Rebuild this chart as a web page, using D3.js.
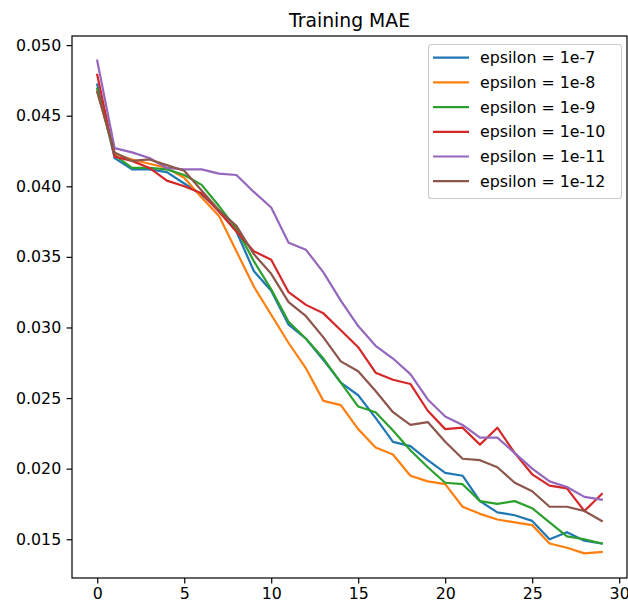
<!DOCTYPE html>
<html>
<head>
<meta charset="utf-8">
<script src="https://cdn.jsdelivr.net/npm/d3@7"></script>
<style>
  html, body { margin: 0; padding: 0; background: #fff; }
  svg { display: block; font-family: "DejaVu Sans", sans-serif; }
</style>
</head>
<body>
<svg id="chart" width="628" height="607"></svg>
<script>
// Training MAE per epoch for different Adam epsilon values
const epochs = d3.range(30);
const seriesNames = ["epsilon = 1e-7", "epsilon = 1e-8", "epsilon = 1e-9",
                     "epsilon = 1e-10", "epsilon = 1e-11", "epsilon = 1e-12"];
const eps1e7 = [0.0472, 0.0420, 0.0412, 0.0412, 0.0410, 0.0402, 0.0394, 0.0383, 0.0368, 0.0340,
                0.0326, 0.0302, 0.0292, 0.0277, 0.0261, 0.0252, 0.0236, 0.0219, 0.0216, 0.0206,
                0.0197, 0.0195, 0.0177, 0.0169, 0.0167, 0.0163, 0.0150, 0.0155, 0.0149, 0.0147];
const eps1e8 = [0.0467, 0.0423, 0.0419, 0.0416, 0.0413, 0.0406, 0.0392, 0.0379, 0.0354, 0.0329,
                0.0309, 0.0289, 0.0271, 0.0248, 0.0245, 0.0228, 0.0215, 0.0210, 0.0195, 0.0191,
                0.0189, 0.0173, 0.0168, 0.0164, 0.0162, 0.0160, 0.0147, 0.0144, 0.0140, 0.0141];
const eps1e9 = [0.0469, 0.0422, 0.0413, 0.0413, 0.0412, 0.0408, 0.0401, 0.0386, 0.0370, 0.0347,
                0.0327, 0.0304, 0.0292, 0.0278, 0.0261, 0.0244, 0.0240, 0.0227, 0.0213, 0.0201,
                0.0190, 0.0189, 0.0177, 0.0175, 0.0177, 0.0172, 0.0162, 0.0152, 0.0150, 0.0147];
const eps1e10 = [0.0479, 0.0421, 0.0418, 0.0413, 0.0404, 0.0400, 0.0395, 0.0382, 0.0368, 0.0354,
                 0.0348, 0.0325, 0.0316, 0.0310, 0.0298, 0.0286, 0.0268, 0.0263, 0.0260, 0.0241,
                 0.0228, 0.0229, 0.0217, 0.0229, 0.0211, 0.0196, 0.0188, 0.0186, 0.0170, 0.0182];
const eps1e11 = [0.0489, 0.0427, 0.0424, 0.0420, 0.0413, 0.0412, 0.0412, 0.0409, 0.0408, 0.0396,
                 0.0385, 0.0360, 0.0355, 0.0339, 0.0319, 0.0301, 0.0287, 0.0278, 0.0267, 0.0249,
                 0.0237, 0.0231, 0.0222, 0.0222, 0.0211, 0.0200, 0.0191, 0.0187, 0.0180, 0.0178];
const eps1e12 = [0.0467, 0.0424, 0.0418, 0.0419, 0.0415, 0.0411, 0.0397, 0.0383, 0.0372, 0.0352,
                 0.0338, 0.0318, 0.0308, 0.0293, 0.0276, 0.0269, 0.0255, 0.0240, 0.0231, 0.0233,
                 0.0219, 0.0207, 0.0206, 0.0201, 0.0190, 0.0184, 0.0173, 0.0173, 0.0170, 0.0163];
const seriesValues = [eps1e7, eps1e8, eps1e9, eps1e10, eps1e11, eps1e12];
const xTicks = [0, 5, 10, 15, 20, 25, 30];
const yTicks = [0.015, 0.020, 0.025, 0.030, 0.035, 0.040, 0.045, 0.050];
const colors = ["#1f77b4", "#ff7f0e", "#2ca02c", "#d62728", "#9467bd", "#8c564b"];

const svg = d3.select("#chart");
const plotL = 72, plotR = 627, plotT = 36, plotB = 578;

// axis limits with 5% padding around the data, like matplotlib autoscaling
const xExt = d3.extent(epochs);
const xPad = (xExt[1] - xExt[0]) * 0.05;
const allVals = seriesValues.flat();
const yExt = d3.extent(allVals);
const yPad = (yExt[1] - yExt[0]) * 0.05;

const x = d3.scaleLinear().domain([xExt[0] - xPad, xExt[1] + xPad]).range([plotL, plotR]);
const y = d3.scaleLinear().domain([yExt[0] - yPad, yExt[1] + yPad]).range([plotB, plotT]);

const tickFont = 15.8;

// series lines (clipped to plot area)
svg.append("clipPath").attr("id", "clip")
  .append("rect").attr("x", plotL).attr("y", plotT).attr("width", plotR - plotL).attr("height", plotB - plotT);

const line = d3.line().x((d, i) => x(epochs[i])).y(d => y(d));
const plot = svg.append("g").attr("clip-path", "url(#clip)");
seriesValues.forEach((vals, k) => {
  plot.append("path")
    .attr("d", line(vals))
    .attr("fill", "none")
    .attr("stroke", colors[k])
    .attr("stroke-width", 2.2)
    .attr("stroke-linejoin", "round")
    .attr("stroke-linecap", "square");
});

// axes
const xAxis = d3.axisBottom(x).tickValues(xTicks).tickFormat(d3.format("d")).tickSize(5.4).tickPadding(4.2);
const yAxis = d3.axisLeft(y).tickValues(yTicks).tickFormat(d3.format(".3f")).tickSize(5.4).tickPadding(5.4);

const gx = svg.append("g").attr("transform", `translate(0,${plotB})`).call(xAxis);
const gy = svg.append("g").attr("transform", `translate(${plotL},0)`).call(yAxis);
[gx, gy].forEach(g => {
  g.select(".domain").remove();
  g.selectAll(".tick line").attr("stroke", "#000").attr("stroke-width", 1.2);
  g.selectAll(".tick text").attr("fill", "#000").style("font-size", tickFont + "px")
    .style("font-family", "'DejaVu Sans', sans-serif");
});

// frame
svg.append("rect")
  .attr("x", plotL).attr("y", plotT).attr("width", plotR - plotL).attr("height", plotB - plotT)
  .attr("fill", "none").attr("stroke", "#000").attr("stroke-width", 1.2);

// title
svg.append("text")
  .attr("x", (plotL + plotR) / 2).attr("y", plotT - 9.5)
  .attr("text-anchor", "middle")
  .style("font-size", "18.8px")
  .attr("fill", "#000")
  .text("Training MAE");

// legend
const lg = svg.append("g");
const lgX = 428.5, lgY = 44.5, lgW = 193, lgH = 154, rowH = 24.7;
lg.append("rect")
  .attr("x", lgX).attr("y", lgY).attr("width", lgW).attr("height", lgH)
  .attr("rx", 3).attr("fill", "#fff").attr("fill-opacity", 0.8)
  .attr("stroke", "#ccc").attr("stroke-width", 1.1);
seriesNames.forEach((name, k) => {
  const cy = 57.7 + k * rowH;
  lg.append("line")
    .attr("x1", 433).attr("x2", 469).attr("y1", cy).attr("y2", cy)
    .attr("stroke", colors[k]).attr("stroke-width", 2.2);
  lg.append("text")
    .attr("x", 480).attr("y", cy).attr("dy", "0.35em")
    .style("font-size", tickFont + "px")
    .attr("fill", "#000")
    .text(name);
});
</script>
</body>
</html>
